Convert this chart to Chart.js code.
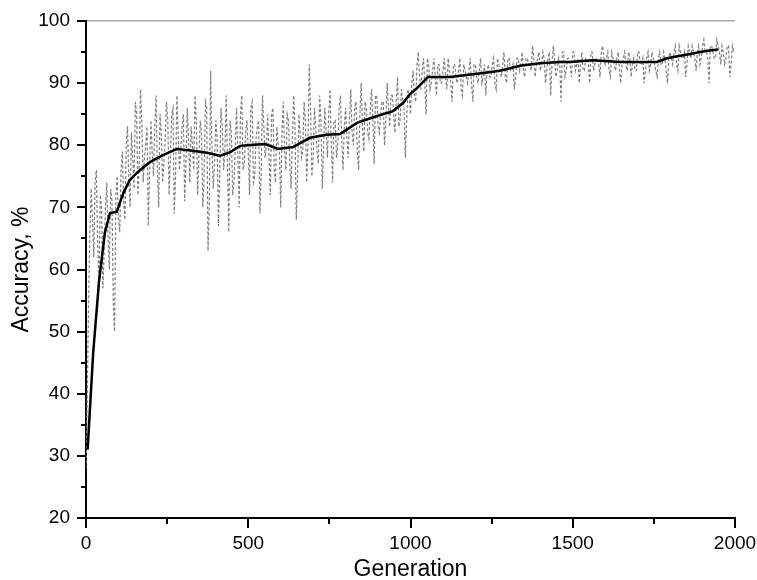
<!DOCTYPE html>
<html>
<head>
<meta charset="utf-8">
<script src="https://cdn.jsdelivr.net/npm/chart.js@4/dist/chart.umd.min.js"></script>
<style>
  html, body { margin: 0; padding: 0; background: #fff; }
  #wrap { width: 757px; height: 580px; }
</style>
</head>
<body>
<div id="wrap"><canvas id="acc-chart" width="757" height="580"></canvas></div>
<script>
// raw accuracy, generations 0, 8, 16, ... 2000
const rawStep = 8;
const rawAccuracyEven = [
  28, 55, 73, 62, 76, 58, 70, 63, 74, 60, 71, 50, 75, 66, 79, 68, 83, 70, 78, 87, 72, 89, 74, 80, 67,
  84, 75, 88, 70, 82, 77, 87, 72, 85, 69, 88, 76, 83, 71, 86, 74, 80, 88, 72, 84, 70, 87, 63, 92, 73,
  84, 67, 86, 76, 88, 66, 82, 74, 86, 70, 88, 77, 84, 72, 87, 75, 83, 69, 88, 78, 85, 72, 86, 74, 80,
  70, 87, 76, 84, 73, 88, 68, 85, 78, 87, 74, 93, 75, 86, 79, 88, 73, 86, 78, 89, 74, 84, 80, 88, 76,
  86, 78, 89, 80, 87, 76, 90, 79, 86, 81, 89, 77, 88, 82, 87, 80, 90, 83, 88, 82, 91, 84, 87, 78, 89,
  85, 92, 87, 95, 89, 94, 85, 93, 90, 94, 88, 93, 90, 94, 89, 92, 87, 93, 90, 94, 88, 92, 90, 94, 87,
  93, 90, 94, 91, 88, 93, 91, 94, 89, 93, 91, 95, 90, 94, 92, 89, 94, 92, 95, 91, 94, 93, 96, 91, 94,
  92, 95, 90, 94, 88, 96, 91, 94, 87, 95, 92, 94, 91, 95, 93, 90, 95, 92, 94, 90, 95, 93, 94, 91, 96,
  93, 95, 91, 94, 92, 95, 90, 94, 93, 95, 91, 94, 92, 95, 93, 90, 94, 92, 95, 93, 91, 95, 93, 94, 90,
  95, 93, 96, 92, 95, 94, 91, 96, 94, 95, 92, 96, 94, 97, 95, 90, 96, 94, 97, 95, 96, 93, 96, 91, 96, 95
];
// raw accuracy, generations 4, 12, 20, ... 1996
const rawAccuracyOdd = [
  40, 66, 68, 74, 64, 72, 57, 70, 65, 73, 55, 72, 68, 76, 71, 80, 74, 82, 73, 85, 77, 84, 78, 83, 76,
  79, 83, 76, 85, 74, 81, 84, 78, 86, 75, 82, 79, 85, 77, 81, 83, 76, 84, 78, 82, 75, 86, 70, 80, 77,
  81, 75, 83, 79, 77, 84, 72, 80, 78, 85, 76, 82, 79, 86, 74, 81, 84, 76, 83, 80, 78, 85, 76, 83, 79,
  82, 79, 85, 77, 81, 83, 75, 82, 79, 84, 80, 86, 78, 83, 77, 84, 79, 82, 85, 80, 84, 78, 86, 81, 83,
  81, 84, 82, 86, 79, 85, 83, 87, 82, 86, 84, 88, 83, 85, 87, 84, 86, 88, 85, 87, 83, 89, 86, 84, 88,
  90, 88, 93, 91, 92, 90, 94, 89, 92, 91, 93, 90, 92, 91, 94, 90, 93, 91, 92, 89, 93, 91, 92, 90, 93,
  91, 92, 90, 93, 92, 91, 93, 90, 94, 92, 93, 91, 94, 92, 93, 91, 94, 93, 92, 94, 93, 92, 94, 93, 95,
  93, 94, 92, 95, 93, 94, 92, 93, 95, 91, 94, 93, 95, 92, 94, 93, 92, 94, 93, 95, 92, 94, 93, 95, 94,
  94, 92, 95, 93, 94, 92, 93, 95, 92, 94, 93, 92, 95, 93, 94, 92, 95, 93, 94, 92, 94, 93, 95, 92, 94,
  94, 95, 93, 96, 94, 95, 93, 95, 96, 94, 95, 93, 96, 95, 94, 96, 95, 94, 96, 93, 95, 94, 96, 93, 95
];

// smoothed accuracy
const smoothGen = [5, 22, 40, 58, 74, 95, 115, 135, 160, 197, 237, 280, 330, 372, 413, 444, 475, 496,
  552, 592, 638, 690, 742, 783, 835, 885, 946, 977, 998, 1020, 1054, 1122, 1205, 1276, 1337, 1399,
  1461, 1492, 1563, 1646, 1760, 1790, 1861, 1914, 1948];
const smoothAccuracy = [31, 46.5, 58, 65.9, 69.1, 69.3, 72.3, 74.4, 75.7, 77.3, 78.4, 79.4, 79.1, 78.8,
  78.3, 78.9, 79.9, 80.0, 80.2, 79.4, 79.7, 81.2, 81.7, 81.8, 83.6, 84.5, 85.5, 86.8, 88.2, 89.2, 91.0,
  91.0, 91.5, 92.0, 92.8, 93.2, 93.4, 93.4, 93.7, 93.4, 93.4, 94.0, 94.7, 95.2, 95.4];

const xTicks = [0, 500, 1000, 1500, 2000];
const yTicks = [20, 30, 40, 50, 60, 70, 80, 90, 100];

const FONT = "'Liberation Sans', Arial, sans-serif";

function rawPoints() {
  const pts = [];
  rawAccuracyEven.forEach((v, i) => {
    pts.push({ x: i * rawStep, y: v });
    if (i < rawAccuracyOdd.length) pts.push({ x: i * rawStep + rawStep / 2, y: rawAccuracyOdd[i] });
  });
  return pts;
}

// outward major/minor tick marks, Origin style
const tickMarks = {
  id: "tickMarks",
  afterDraw(chart) {
    const { ctx, chartArea, scales } = chart;
    ctx.save();
    ctx.strokeStyle = "#000";
    ctx.lineWidth = 2;
    for (let v = 0; v <= 2000; v += 250) {
      const x = Math.round(scales.x.getPixelForValue(v));
      const len = v % 500 === 0 ? 10 : 6;
      ctx.beginPath();
      ctx.moveTo(x, chartArea.bottom);
      ctx.lineTo(x, chartArea.bottom + len);
      ctx.stroke();
    }
    for (let v = 20; v <= 100; v += 5) {
      const y = Math.round(scales.y.getPixelForValue(v));
      const len = v % 10 === 0 ? 9 : 5;
      ctx.beginPath();
      ctx.moveTo(chartArea.left, y);
      ctx.lineTo(chartArea.left - len, y);
      ctx.stroke();
    }
    ctx.restore();
  },
};

new Chart(document.getElementById("acc-chart"), {
  type: "line",
  data: {
    datasets: [
      {
        label: "Smoothed",
        data: smoothGen.map((g, i) => ({ x: g, y: smoothAccuracy[i] })),
        borderColor: "#000",
        borderWidth: 2.5,
        pointRadius: 0,
        tension: 0,
        order: 0,
      },
      {
        label: "Raw",
        data: rawPoints(),
        borderColor: "#7e7e7e",
        borderWidth: 1.2,
        borderDash: [3, 2],
        pointRadius: 0,
        tension: 0,
        order: 1,
      },
    ],
  },
  options: {
    responsive: false,
    animation: false,
    layout: { padding: { left: 0, right: 22, top: 21, bottom: 0 } },
    plugins: { legend: { display: false }, tooltip: { enabled: false } },
    scales: {
      x: {
        type: "linear",
        min: 0,
        max: 2000,
        afterBuildTicks: (scale) => { scale.ticks = xTicks.map((v) => ({ value: v })); },
        afterFit: (scale) => {
          scale.height = 62;
          scale.paddingLeft = 0;
          scale.paddingRight = 0;
        },
        grid: { display: false, drawTicks: false },
        border: { display: true, color: "#000", width: 2 },
        ticks: {
          color: "#000",
          padding: 14,
          maxRotation: 0,
          font: { family: FONT, size: 19 },
          callback: (v) => String(v),
        },
        title: {
          display: true,
          text: "Generation",
          color: "#000",
          padding: { top: 0, bottom: 0 },
          font: { family: FONT, size: 23, lineHeight: 0.9 },
        },
      },
      y: {
        min: 20,
        max: 100,
        afterBuildTicks: (scale) => { scale.ticks = yTicks.map((v) => ({ value: v })); },
        afterFit: (scale) => {
          scale.width = 86;
          scale.paddingTop = 0;
          scale.paddingBottom = 0;
        },
        grid: {
          drawTicks: false,
          color: (c) => (c.tick && c.tick.value === 100 ? "#a8a8a8" : "rgba(0,0,0,0)"),
          lineWidth: 1.5,
        },
        border: { display: true, color: "#000", width: 2 },
        ticks: {
          color: "#000",
          padding: 16,
          font: { family: FONT, size: 19 },
          callback: (v) => String(v),
        },
        title: {
          display: true,
          text: "Accuracy, %",
          color: "#000",
          padding: { top: 10, bottom: 0 },
          font: { family: FONT, size: 23, lineHeight: 1 },
        },
      },
    },
  },
  plugins: [tickMarks],
});
</script>
</body>
</html>
